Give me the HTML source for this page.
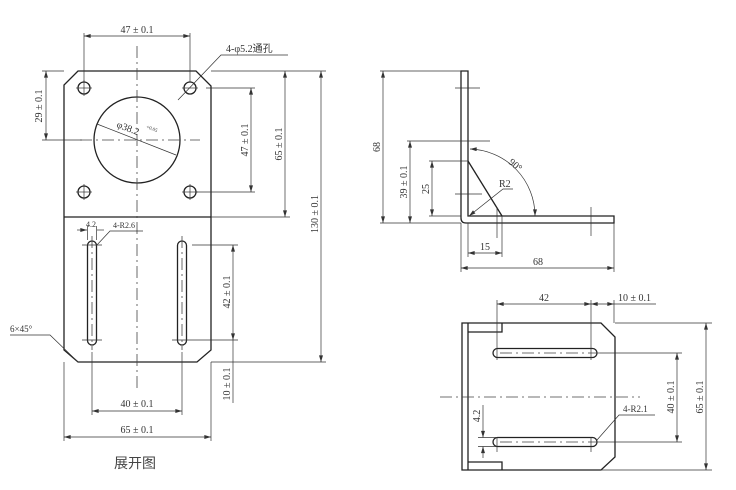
<!DOCTYPE html>
<html><head><meta charset="utf-8"><style>
html,body{margin:0;padding:0;background:#fff;}
svg{display:block;}
text{font-family:"Liberation Serif","Noto Serif CJK SC",serif;font-size:10px;fill:#333;}
.o{stroke:#222;stroke-width:1.3;fill:none;}
.d{stroke:#333;stroke-width:0.7;fill:none;}
.c{stroke:#444;stroke-width:0.8;fill:none;stroke-dasharray:12 4 2 4;}
</style></head><body>
<svg width="736" height="490" viewBox="0 0 736 490" xmlns="http://www.w3.org/2000/svg">
<defs>
<marker id="a" viewBox="0 0 10 6" refX="10" refY="3" markerWidth="7" markerHeight="4" orient="auto-start-reverse" markerUnits="userSpaceOnUse"><path d="M0,0 L10,3 L0,6z" fill="#333"/></marker>
</defs>

<!-- ===== LEFT: unfolded view ===== -->
<path class="o" d="M78,71 L196,71 L211,86 L211,350 L197,362 L78,362 L64,350 L64,85 Z"/>
<line class="o" x1="64" y1="217" x2="211" y2="217"/>
<circle class="o" cx="137" cy="140" r="43"/>
<g class="o">
<circle cx="84" cy="88" r="6"/><circle cx="190" cy="88" r="6"/>
<circle cx="84" cy="192" r="6"/><circle cx="190" cy="192" r="6"/>
</g>
<g class="d">
<line x1="76" y1="88" x2="92" y2="88"/><line x1="84" y1="80" x2="84" y2="96"/>
<line x1="182" y1="88" x2="198" y2="88"/>
<line x1="76" y1="192" x2="92" y2="192"/><line x1="84" y1="184" x2="84" y2="200"/>
<line x1="182" y1="192" x2="198" y2="192"/><line x1="190" y1="184" x2="190" y2="200"/>
</g>
<line class="c" x1="137" y1="46" x2="137" y2="390"/>
<line class="c" x1="80" y1="140" x2="200" y2="140"/>
<!-- slots -->
<rect class="o" x="87.5" y="241" width="9" height="104" rx="4.5"/>
<rect class="o" x="177.5" y="241" width="9" height="104" rx="4.5"/>
<line class="c" x1="92" y1="236" x2="92" y2="350"/>
<line class="c" x1="182" y1="236" x2="182" y2="350"/>
<!-- diameter line -->
<line class="d" x1="97" y1="124" x2="176" y2="155" stroke-width="1"/>
<text x="116" y="127" transform="rotate(21 116 127)">φ38.2</text>
<text x="146" y="128" transform="rotate(21 146 128)" style="font-size:5px">+0.05</text>
<!-- 47 top -->
<line class="d" x1="84" y1="33" x2="84" y2="82"/><line class="d" x1="190" y1="33" x2="190" y2="82"/>
<line class="d" x1="84" y1="36" x2="190" y2="36" marker-start="url(#a)" marker-end="url(#a)"/>
<text x="137" y="33" text-anchor="middle">47 ± 0.1</text>
<!-- 4-φ5.2 -->
<polyline class="d" points="178,100 221,55 288,55"/>
<text x="226" y="52" style="font-family:'Liberation Serif','Noto Sans CJK SC',serif">4-φ5.2通孔</text>
<!-- 29 -->
<line class="d" x1="42" y1="71" x2="64" y2="71"/><line class="d" x1="42" y1="140" x2="82" y2="140"/>
<line class="d" x1="46" y1="71" x2="46" y2="140" marker-start="url(#a)" marker-end="url(#a)"/>
<text x="42" y="106" text-anchor="middle" transform="rotate(-90 42 106)">29 ± 0.1</text>
<!-- 47 right -->
<line class="d" x1="206" y1="88" x2="255" y2="88"/><line class="d" x1="196" y1="192" x2="255" y2="192"/>
<line class="d" x1="251" y1="88" x2="251" y2="192" marker-start="url(#a)" marker-end="url(#a)"/>
<text x="248" y="140" text-anchor="middle" transform="rotate(-90 248 140)">47 ± 0.1</text>
<!-- 65 / 130 -->
<line class="d" x1="211" y1="71" x2="326" y2="71"/><line class="d" x1="211" y1="217" x2="290" y2="217"/>
<line class="d" x1="285" y1="71" x2="285" y2="217" marker-start="url(#a)" marker-end="url(#a)"/>
<text x="282" y="144" text-anchor="middle" transform="rotate(-90 282 144)">65 ± 0.1</text>
<line class="d" x1="211" y1="362" x2="326" y2="362"/>
<line class="d" x1="321" y1="71" x2="321" y2="362" marker-start="url(#a)" marker-end="url(#a)"/>
<text x="318" y="214" text-anchor="middle" transform="rotate(-90 318 214)">130 ± 0.1</text>
<!-- 4.2 / 4-R2.6 -->
<line class="d" x1="77" y1="230" x2="87" y2="230" marker-end="url(#a)"/>
<line class="d" x1="97" y1="230" x2="104" y2="230"/>
<line class="d" x1="87.5" y1="226" x2="87.5" y2="240"/><line class="d" x1="96.5" y1="226" x2="96.5" y2="240"/>
<text x="86" y="227" style="font-size:8px">4.2</text>
<polyline class="d" points="96,246 110,231 143,231"/>
<text x="113" y="228" style="font-size:8px">4-R2.6</text>
<line class="d" x1="82" y1="245" x2="102" y2="245"/><line class="d" x1="82" y1="340" x2="102" y2="340"/>
<!-- 42 / 10 -->
<line class="d" x1="192" y1="245" x2="238" y2="245"/><line class="d" x1="172" y1="340" x2="238" y2="340"/>
<line class="d" x1="233" y1="245" x2="233" y2="340" marker-start="url(#a)" marker-end="url(#a)"/>
<text x="230" y="292" text-anchor="middle" transform="rotate(-90 230 292)">42 ± 0.1</text>
<line class="d" x1="233" y1="340" x2="233" y2="403"/>
<text x="230" y="384" text-anchor="middle" transform="rotate(-90 230 384)">10 ± 0.1</text>
<!-- 6x45 -->
<polyline class="d" points="10,335 50,335 78,362"/>
<text x="10" y="332" style="font-size:9px">6×45°</text>
<!-- 40 / 65 bottom -->
<line class="d" x1="92" y1="352" x2="92" y2="415"/><line class="d" x1="182" y1="352" x2="182" y2="415"/>
<line class="d" x1="92" y1="411" x2="182" y2="411" marker-start="url(#a)" marker-end="url(#a)"/>
<text x="137" y="407" text-anchor="middle">40 ± 0.1</text>
<line class="d" x1="64" y1="362" x2="64" y2="441"/><line class="d" x1="211" y1="362" x2="211" y2="441"/>
<line class="d" x1="64" y1="437" x2="211" y2="437" marker-start="url(#a)" marker-end="url(#a)"/>
<text x="137" y="433" text-anchor="middle">65 ± 0.1</text>
<text x="114" y="468" style="font-family:'Noto Sans CJK SC',sans-serif;font-size:14px;fill:#444">展开图</text>

<!-- ===== SIDE VIEW ===== -->
<path class="o" d="M461,71 L468,71 L468,216 L614,216 L614,223 L466,223 Q461,223 461,218 Z"/>
<line class="o" x1="468" y1="161" x2="502" y2="216"/>
<line class="d" x1="455" y1="88" x2="480" y2="88"/><line class="d" x1="455" y1="194" x2="482" y2="194"/>
<line class="d" x1="497" y1="207" x2="497" y2="238"/><line class="d" x1="591" y1="207" x2="591" y2="236"/>
<!-- 68 vertical -->
<line class="d" x1="380" y1="71" x2="461" y2="71"/><line class="d" x1="380" y1="223" x2="461" y2="223"/>
<line class="d" x1="383" y1="71" x2="383" y2="223" marker-start="url(#a)" marker-end="url(#a)"/>
<text x="380" y="147" text-anchor="middle" transform="rotate(-90 380 147)">68</text>
<!-- 39 -->
<line class="d" x1="407" y1="141" x2="490" y2="141"/>
<line class="d" x1="410" y1="141" x2="410" y2="223" marker-start="url(#a)" marker-end="url(#a)"/>
<text x="407" y="182" text-anchor="middle" transform="rotate(-90 407 182)">39 ± 0.1</text>
<!-- 25 -->
<line class="d" x1="429" y1="161" x2="468" y2="161"/><line class="d" x1="429" y1="216" x2="461" y2="216"/>
<line class="d" x1="432" y1="161" x2="432" y2="216" marker-start="url(#a)" marker-end="url(#a)"/>
<text x="429" y="189" text-anchor="middle" transform="rotate(-90 429 189)">25</text>
<!-- 90 arc -->
<path class="d" d="M470,149 A67,67 0 0 1 535,216" marker-start="url(#a)" marker-end="url(#a)"/>
<text x="508" y="163" transform="rotate(40 508 163)">90°</text>
<!-- R2 -->
<polyline class="d" points="469,216 503,189 513,189" marker-start="url(#a)"/>
<text x="499" y="187">R2</text>
<!-- 15 -->
<line class="d" x1="468" y1="223" x2="468" y2="257"/><line class="d" x1="502" y1="216" x2="502" y2="257"/>
<line class="d" x1="468" y1="253" x2="502" y2="253" marker-start="url(#a)" marker-end="url(#a)"/>
<text x="485" y="250" text-anchor="middle">15</text>
<!-- 68 horizontal -->
<line class="d" x1="461" y1="223" x2="461" y2="272"/><line class="d" x1="614" y1="223" x2="614" y2="272"/>
<line class="d" x1="461" y1="268" x2="614" y2="268" marker-start="url(#a)" marker-end="url(#a)"/>
<text x="538" y="265" text-anchor="middle">68</text>

<!-- ===== BOTTOM VIEW ===== -->
<path class="o" d="M462,323 L601,323 L615,337 L615,457 L601,470 L462,470 Z"/>
<line class="o" x1="468" y1="323" x2="468" y2="470"/>
<polyline class="o" points="468,332 502,332 502,323"/>
<polyline class="o" points="468,462 502,462 502,470"/>
<rect class="o" x="493" y="348.5" width="104" height="9" rx="4.5"/>
<rect class="o" x="493" y="437.5" width="104" height="9" rx="4.5"/>
<line class="c" x1="440" y1="397" x2="640" y2="397"/>
<line class="c" x1="500" y1="353" x2="600" y2="353"/>
<line class="c" x1="500" y1="442" x2="600" y2="442"/>
<!-- 42 / 10 -->
<line class="d" x1="497" y1="300" x2="497" y2="360"/><line class="d" x1="591" y1="300" x2="591" y2="360"/>
<line class="d" x1="614" y1="300" x2="614" y2="323"/>
<line class="d" x1="497" y1="304" x2="591" y2="304" marker-start="url(#a)" marker-end="url(#a)"/>
<text x="544" y="301" text-anchor="middle">42</text>
<line class="d" x1="591" y1="304" x2="614" y2="304" marker-start="url(#a)" marker-end="url(#a)"/>
<line class="d" x1="614" y1="304" x2="656" y2="304"/>
<text x="618" y="301">10 ± 0.1</text>
<line class="d" x1="497" y1="437" x2="497" y2="452"/><line class="d" x1="591" y1="437" x2="591" y2="452"/>
<!-- 40 / 65 -->
<line class="d" x1="600" y1="353" x2="682" y2="353"/><line class="d" x1="600" y1="442" x2="682" y2="442"/>
<line class="d" x1="677" y1="353" x2="677" y2="442" marker-start="url(#a)" marker-end="url(#a)"/>
<text x="674" y="397" text-anchor="middle" transform="rotate(-90 674 397)">40 ± 0.1</text>
<line class="d" x1="615" y1="323" x2="712" y2="323"/><line class="d" x1="601" y1="470" x2="712" y2="470"/>
<line class="d" x1="706" y1="323" x2="706" y2="470" marker-start="url(#a)" marker-end="url(#a)"/>
<text x="703" y="397" text-anchor="middle" transform="rotate(-90 703 397)">65 ± 0.1</text>
<!-- 4.2 -->
<line class="d" x1="478" y1="437.5" x2="497" y2="437.5"/><line class="d" x1="478" y1="446.5" x2="497" y2="446.5"/>
<line class="d" x1="483" y1="405" x2="483" y2="437.5" marker-end="url(#a)"/>
<line class="d" x1="483" y1="458" x2="483" y2="446.5" marker-end="url(#a)"/>
<text x="480" y="416" text-anchor="middle" transform="rotate(-90 480 416)">4.2</text>
<!-- 4-R2.1 -->
<polyline class="d" points="597,440 619,415 655,415"/>
<text x="623" y="412" style="font-size:9px">4-R2.1</text>
</svg>
</body></html>
